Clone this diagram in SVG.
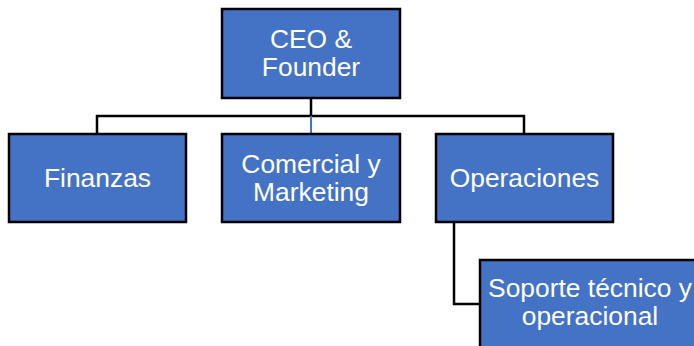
<svg xmlns="http://www.w3.org/2000/svg" width="694" height="346" viewBox="0 0 694 346">
  <style>
    .box { fill: #4472C4; stroke: #000; stroke-width: 2.5; }
    .lbl { font-family: "Liberation Sans", Arial, sans-serif; font-size: 26.4px; fill: #fff; text-anchor: middle; }
    .link { fill: none; stroke: #000; stroke-width: 2.5; }
  </style>
  <rect width="694" height="346" fill="#fff"/>
  <g id="connectors">
    <path class="link" d="M311 98 V116 M97 134 V116 H524 V134"/>
    <path d="M311 116 V134" fill="none" stroke="#4472C4" stroke-width="2"/>
    <path class="link" d="M454 222 V304 H480"/>
  </g>
  <g id="ceo">
    <rect class="box" x="222" y="9" width="178" height="89"/>
    <text class="lbl" x="311" y="48">CEO &amp;</text>
    <text class="lbl" x="311" y="76">Founder</text>
  </g>
  <g id="finanzas">
    <rect class="box" x="9" y="134" width="177" height="88"/>
    <text class="lbl" x="97.5" y="187">Finanzas</text>
  </g>
  <g id="comercial">
    <rect class="box" x="222" y="134" width="178" height="88"/>
    <text class="lbl" x="311" y="173">Comercial y</text>
    <text class="lbl" x="311" y="201">Marketing</text>
  </g>
  <g id="operaciones">
    <rect class="box" x="436" y="134" width="177" height="88"/>
    <text class="lbl" x="524.5" y="187">Operaciones</text>
  </g>
  <g id="soporte">
    <rect class="box" x="480" y="260" width="220" height="92"/>
    <text class="lbl" x="590" y="297">Soporte técnico y</text>
    <text class="lbl" x="590" y="325">operacional</text>
  </g>
</svg>
